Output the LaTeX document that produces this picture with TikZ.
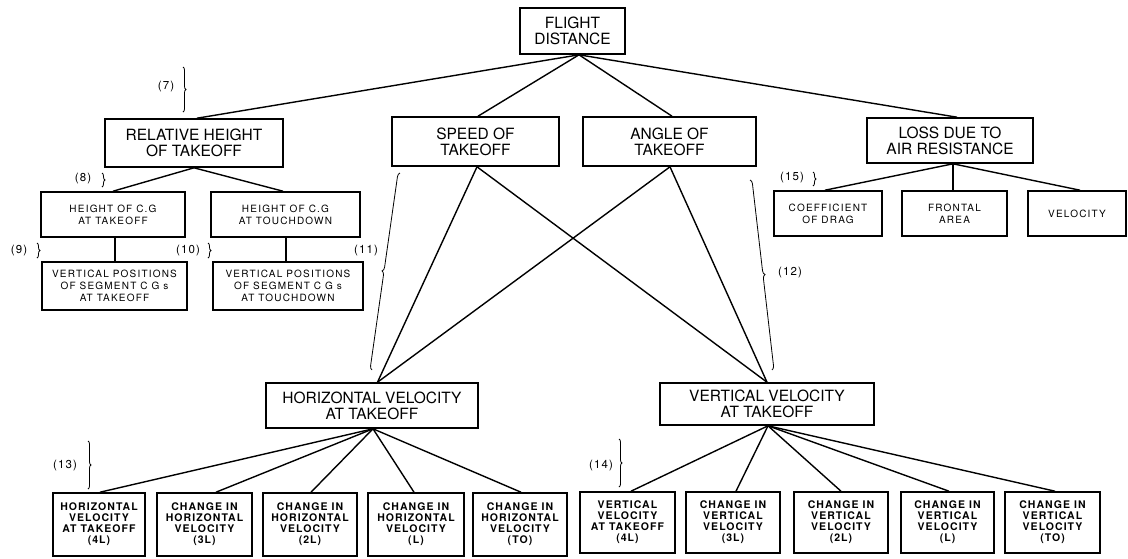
\documentclass[tikz,border=0pt]{standalone}
\usepackage{fontspec}
\setmainfont{TeX Gyre Heros}
\usetikzlibrary{decorations.pathreplacing}
\begin{document}
\begin{tikzpicture}[x=1pt,y=-1pt,
  box/.style={draw, line width=1.6pt, inner sep=0pt, align=center},
  big/.style={box, font=\fontsize{15.5}{16}\selectfont},
  mid/.style={box, font=\fontsize{10}{12}\selectfont\addfontfeature{LetterSpace=12}},
  low/.style={box, font=\fontsize{10.5}{11}\selectfont\bfseries\addfontfeature{LetterSpace=10}},
  link/.style={line width=1.4pt},
  brc/.style={decorate, decoration={brace, amplitude=3pt}, line width=0.8pt},
  lbrc/.style={decorate, decoration={brace, amplitude=4pt}, line width=0.8pt},
  tag/.style={font=\fontsize{11.5}{11.5}\selectfont\addfontfeature{LetterSpace=10}, inner sep=0pt}
]
\fill[white] (0,0) rectangle (1128,558);
\useasboundingbox (0,0) rectangle (1128,558);

% top level
\node[big, minimum width=105pt, minimum height=46pt] (fd) at (572.5,31) {FLIGHT\\DISTANCE};
\node[big, minimum width=178pt, minimum height=48pt] (rh) at (194,143) {RELATIVE HEIGHT\\OF TAKEOFF};
\node[big, minimum width=167pt, minimum height=49pt] (sp) at (475.5,141.5) {SPEED OF\\TAKEOFF};
\node[big, minimum width=173pt, minimum height=49pt] (an) at (669.5,141.5) {ANGLE OF\\TAKEOFF};
\node[big, minimum width=166pt, minimum height=45pt] (lo) at (950,140.5) {LOSS DUE TO\\AIR RESISTANCE};

% second level
\node[mid, minimum width=144pt, minimum height=45pt] (h1) at (113,214.5) {HEIGHT OF C.G\\AT TAKEOFF};
\node[mid, minimum width=149pt, minimum height=45pt] (h2) at (285.5,214.5) {HEIGHT OF C.G\\AT TOUCHDOWN};
\node[mid, minimum width=145pt, minimum height=48pt] (v1) at (114.5,286) {VERTICAL POSITIONS\\OF SEGMENT C G s\\AT TAKEOFF};
\node[mid, minimum width=150pt, minimum height=48pt] (v2) at (288,286) {VERTICAL POSITIONS\\OF SEGMENT C G s\\AT TOUCHDOWN};
\node[mid, minimum width=108pt, minimum height=45pt] (cd) at (828,213.5) {COEFFICIENT\\OF DRAG};
\node[mid, minimum width=105pt, minimum height=45pt] (fa) at (954.5,213.5) {FRONTAL\\AREA};
\node[mid, minimum width=98pt, minimum height=45pt] (ve) at (1077,213.5) {VELOCITY};

% velocity boxes
\node[big, minimum width=212pt, minimum height=45pt] (hv) at (372,405.5) {HORIZONTAL VELOCITY\\AT TAKEOFF};
\node[big, minimum width=214pt, minimum height=42pt] (vv) at (767,404) {VERTICAL VELOCITY\\AT TAKEOFF};

% bottom row left
\node[low, minimum width=92pt, minimum height=63pt] (l1) at (99,524.5) {HORIZONTAL\\VELOCITY\\AT TAKEOFF\\(4L)};
\node[low, minimum width=95pt, minimum height=63pt] (l2) at (204.5,524.5) {CHANGE IN\\HORIZONTAL\\VELOCITY\\(3L)};
\node[low, minimum width=94pt, minimum height=63pt] (l3) at (310,524.5) {CHANGE IN\\HORIZONTAL\\VELOCITY\\(2L)};
\node[low, minimum width=96pt, minimum height=63pt] (l4) at (416,524.5) {CHANGE IN\\HORIZONTAL\\VELOCITY\\(L)};
\node[low, minimum width=94pt, minimum height=63pt] (l5) at (520,524.5) {CHANGE IN\\HORIZONTAL\\VELOCITY\\(TO)};

% bottom row right
\node[low, minimum width=95pt, minimum height=61pt] (r1) at (627.5,522.5) {VERTICAL\\VELOCITY\\AT TAKEOFF\\(4L)};
\node[low, minimum width=94pt, minimum height=61pt] (r2) at (733,522.5) {CHANGE IN\\VERTICAL\\VELOCITY\\(3L)};
\node[low, minimum width=94pt, minimum height=61pt] (r3) at (841,522.5) {CHANGE IN\\VERTICAL\\VELOCITY\\(2L)};
\node[low, minimum width=93pt, minimum height=61pt] (r4) at (947.5,522.5) {CHANGE IN\\VERTICAL\\VELOCITY\\(L)};
\node[low, minimum width=95pt, minimum height=61pt] (r5) at (1052.5,522.5) {CHANGE IN\\VERTICAL\\VELOCITY\\(TO)};

% connectors
\draw[link] ([xshift=6.5pt]fd.south) -- ([xshift=3pt]rh.north);
\draw[link] ([xshift=6.5pt]fd.south) -- ([xshift=2.5pt]sp.north);
\draw[link] ([xshift=6.5pt]fd.south) -- ([xshift=2.5pt]an.north);
\draw[link] ([xshift=6.5pt]fd.south) -- ([xshift=7pt]lo.north);

\draw[link] (rh.south) -- (h1.north);
\draw[link] (rh.south) -- ([xshift=-2.5pt]h2.north);
\draw[link] ([xshift=2pt]h1.south) -- ([xshift=0.5pt]v1.north);
\draw[link] ([xshift=0.5pt]h2.south) -- ([xshift=-2pt]v2.north);

\draw[link] ([xshift=3pt]lo.south) -- ([xshift=-3pt]cd.north);
\draw[link] ([xshift=3pt]lo.south) -- ([xshift=-1.5pt]fa.north);
\draw[link] ([xshift=3pt]lo.south) -- ([xshift=3pt]ve.north);

\draw[link] ([xshift=1.5pt]sp.south) -- ([xshift=5.5pt]hv.north);
\draw[link] ([xshift=1.5pt]sp.south) -- (vv.north);
\draw[link] ([xshift=0.5pt]an.south) -- ([xshift=5.5pt]hv.north);
\draw[link] ([xshift=0.5pt]an.south) -- (vv.north);

\draw[link] ([xshift=1pt]hv.south) -- ([xshift=1pt]l1.north);
\draw[link] ([xshift=1pt]hv.south) -- ([xshift=11.5pt]l2.north);
\draw[link] ([xshift=1pt]hv.south) -- ([xshift=1pt]l3.north);
\draw[link] ([xshift=1pt]hv.south) -- ([xshift=-2pt]l4.north);
\draw[link] ([xshift=1pt]hv.south) -- ([xshift=1pt]l5.north);

\draw[link] ([xshift=1pt]vv.south) -- ([xshift=3.5pt]r1.north);
\draw[link] ([xshift=1pt]vv.south) -- ([xshift=3pt]r2.north);
\draw[link] ([xshift=1pt]vv.south) -- (r3.north);
\draw[link] ([xshift=1pt]vv.south) -- ([xshift=1.5pt]r4.north);
\draw[link] ([xshift=1pt]vv.south) -- ([xshift=2.5pt]r5.north);

% braces and tags
\node[tag] (t7) at (166,87) {(7)};
\draw[brc] (183,67) -- (183,112);
\node[tag] (t8) at (83,179) {(8)};
\draw[brc] (102,173) -- (102,187);
\node[tag] (t9) at (19,251) {(9)};
\draw[brc] (37,243) -- (37,258);
\node[tag] (t10) at (188,251) {(10)};
\draw[brc] (208,243) -- (208,258);
\node[tag] (t11) at (366,251) {(11)};
\draw[lbrc] (372,370) -- (400,173);
\node[tag] (t12) at (790,273) {(12)};
\draw[lbrc] (750,180) -- (772,370);
\node[tag] (t13) at (65,466) {(13)};
\draw[brc] (88,441) -- (88,489);
\node[tag] (t14) at (601,466) {(14)};
\draw[brc] (619,439) -- (619,487);
\node[tag] (t15) at (792,178) {(15)};
\draw[brc] (813,172) -- (813,186);
\end{tikzpicture}
\end{document}
